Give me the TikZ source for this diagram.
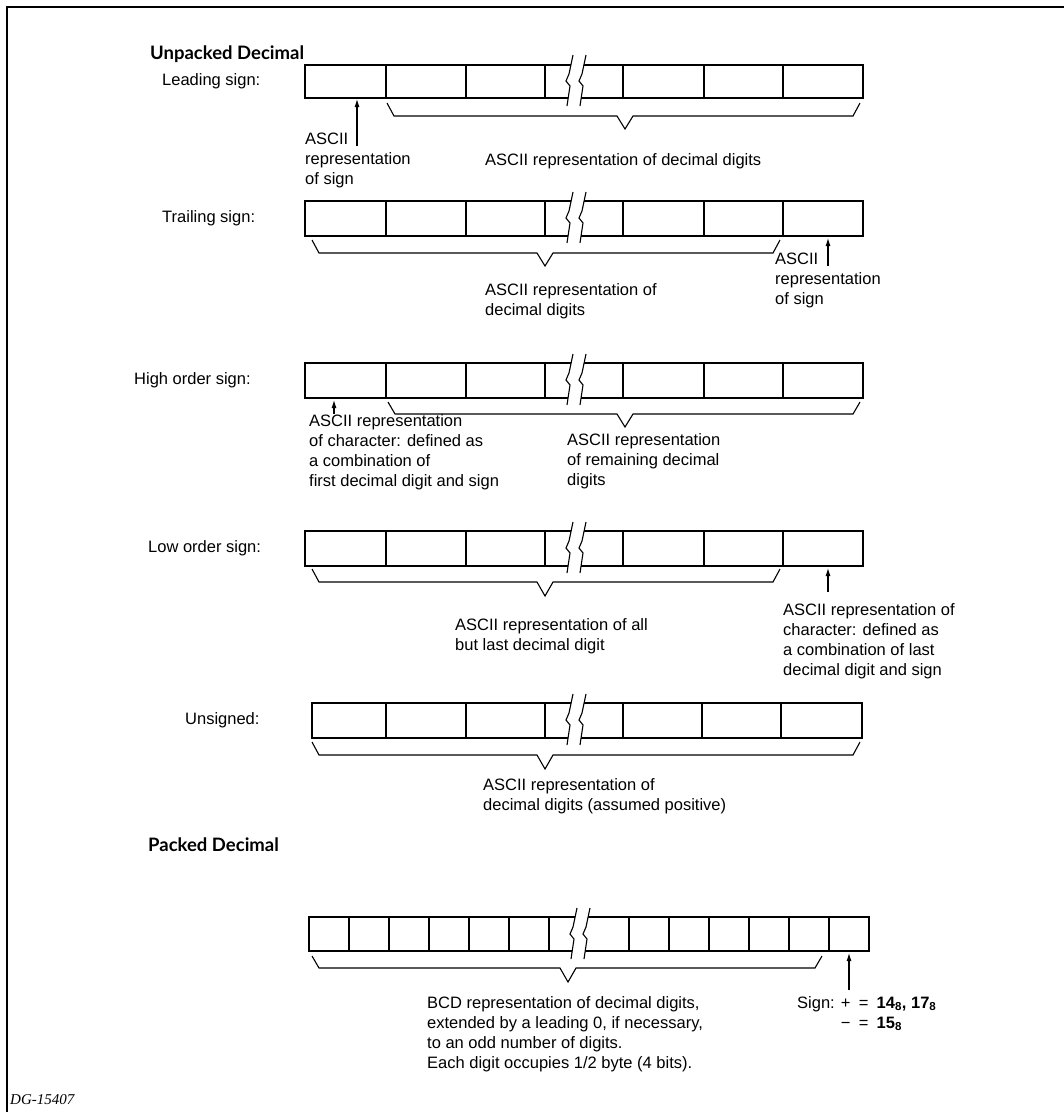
\documentclass[tikz,border=0pt]{standalone}
\usepackage{fontspec}
\setmainfont{Liberation Sans}
\newfontfamily\headfont{Lato}
\newfontfamily\tagfont{Liberation Serif}
\usetikzlibrary{arrows.meta}
\begin{document}
\begin{tikzpicture}[x=1pt,y=-1pt,
  box/.style={line width=1.1pt},
  brace/.style={line width=1.1pt,line join=miter},
  ptr/.style={line width=1.1pt,-{Latex[length=8pt,width=5pt]}},
  txt/.style={inner sep=0pt,align=left,anchor=north west,font=\fontsize{16.5}{20}\selectfont},
  lbl/.style={inner sep=0pt,anchor=west,font=\fontsize{16.5}{20}\selectfont},
  head/.style={inner sep=0pt,anchor=west,font=\headfont\bfseries\fontsize{18.5}{20}\selectfont},
  pics/cut/.style={code={
    \fill[white] (7,-26) -- (3,-7) -- (0,0) -- (4,5) -- (1,25) -- (14,25) -- (17,5) -- (13,0) -- (16,-7) -- (20,-26) -- cycle;
    \draw[box] (7,-26) -- (3,-7) -- (0,0) -- (4,5) -- (1,25);
    \draw[box] (20,-26) -- (16,-7) -- (13,0) -- (17,5) -- (14,25);
  }}]
\useasboundingbox (0,0) rectangle (1064,1112);
\draw[line width=1.2pt] (1064,7) -- (7,7) -- (7,1112);
\node[head] (unpacked) at (150,54) {Unpacked Decimal};
\node[lbl] (leading) at (162,81) {Leading sign:};
\draw[box] (305,65) rectangle (863,98);
\draw[box] (386,65) -- (386,98);
\draw[box] (466,65) -- (466,98);
\draw[box] (545,65) -- (545,98);
\draw[box] (623,65) -- (623,98);
\draw[box] (704,65) -- (704,98);
\draw[box] (783,65) -- (783,98);
\pic at (566,81) {cut};
\coordinate (lsign) at (357,99);
\coordinate (lsignfoot) at (357,146);
\draw[ptr] (lsignfoot) -- (lsign);
\node[txt] (lsigntxt) at (305,133) {ASCII\\representation\\of sign};
\draw[brace] (387,103) -- (394,116) -- (617,116) -- (625,129) -- (633,116) -- (853,116) -- (860,103);
\node[txt] (ldigits) at (485,153) {ASCII representation of decimal digits};
\node[lbl] (trailing) at (162,218) {Trailing sign:};
\draw[box] (305,201) rectangle (863,236);
\draw[box] (386,201) -- (386,236);
\draw[box] (466,201) -- (466,236);
\draw[box] (545,201) -- (545,236);
\draw[box] (623,201) -- (623,236);
\draw[box] (704,201) -- (704,236);
\draw[box] (783,201) -- (783,236);
\pic at (566,218) {cut};
\draw[brace] (312,240) -- (319,253) -- (537,253) -- (545,266) -- (553,253) -- (773,253) -- (780,240);
\coordinate (tsign) at (828,238);
\coordinate (tsignfoot) at (828,266);
\draw[ptr] (tsignfoot) -- (tsign);
\node[txt] (tsigntxt) at (775,253) {ASCII\\representation\\of sign};
\node[txt] (tdigits) at (485,283) {ASCII representation of\\decimal digits};
\node[lbl] (high) at (134,380) {High order sign:};
\draw[box] (305,363) rectangle (863,398);
\draw[box] (386,363) -- (386,398);
\draw[box] (466,363) -- (466,398);
\draw[box] (545,363) -- (545,398);
\draw[box] (623,363) -- (623,398);
\draw[box] (704,363) -- (704,398);
\draw[box] (783,363) -- (783,398);
\pic at (566,380) {cut};
\coordinate (hsign) at (334,400);
\coordinate (hsignfoot) at (334,414);
\draw[ptr] (hsignfoot) -- (hsign);
\node[txt] (hsigntxt) at (309,414) {ASCII representation\\of character: defined as\\a combination of\\first decimal digit and sign};
\draw[brace] (388,402) -- (395,414) -- (617,414) -- (625,427) -- (633,414) -- (853,414) -- (860,402);
\node[txt] (hdigits) at (567,433) {ASCII representation\\of remaining decimal\\digits};
\node[lbl] (low) at (148,548) {Low order sign:};
\draw[box] (305,531) rectangle (863,566);
\draw[box] (386,531) -- (386,566);
\draw[box] (466,531) -- (466,566);
\draw[box] (545,531) -- (545,566);
\draw[box] (623,531) -- (623,566);
\draw[box] (704,531) -- (704,566);
\draw[box] (783,531) -- (783,566);
\pic at (566,548) {cut};
\draw[brace] (312,569) -- (319,582) -- (537,582) -- (545,596) -- (553,582) -- (773,582) -- (780,569);
\coordinate (osign) at (828,568);
\coordinate (osignfoot) at (828,592);
\draw[ptr] (osignfoot) -- (osign);
\node[txt] (osigntxt) at (783,603) {ASCII representation of\\character: defined as\\a combination of last\\decimal digit and sign};
\node[txt] (odigits) at (455,618) {ASCII representation of all\\but last decimal digit};
\node[lbl] (unsigned) at (185,720) {Unsigned:};
\draw[box] (312,703) rectangle (862,738);
\draw[box] (386,703) -- (386,738);
\draw[box] (466,703) -- (466,738);
\draw[box] (545,703) -- (545,738);
\draw[box] (623,703) -- (623,738);
\draw[box] (702,703) -- (702,738);
\draw[box] (781,703) -- (781,738);
\pic at (566,720) {cut};
\draw[brace] (312,742) -- (319,755) -- (537,755) -- (545,769) -- (553,755) -- (853,755) -- (860,742);
\node[txt] (udigits) at (483,778) {ASCII representation of\\decimal digits (assumed positive)};
\node[head] (packed) at (148,845) {Packed Decimal};
\draw[box] (309,917) rectangle (869,951);
\draw[box] (349,917) -- (349,951);
\draw[box] (389,917) -- (389,951);
\draw[box] (429,917) -- (429,951);
\draw[box] (469,917) -- (469,951);
\draw[box] (509,917) -- (509,951);
\draw[box] (549,917) -- (549,951);
\draw[box] (629,917) -- (629,951);
\draw[box] (669,917) -- (669,951);
\draw[box] (709,917) -- (709,951);
\draw[box] (749,917) -- (749,951);
\draw[box] (789,917) -- (789,951);
\draw[box] (829,917) -- (829,951);
\pic at (570,934) {cut};
\draw[brace] (312,956) -- (319,968) -- (560,968) -- (568,982) -- (576,968) -- (815,968) -- (822,956);
\coordinate (psign) at (849,953);
\coordinate (psignfoot) at (849,990);
\draw[ptr] (psignfoot) -- (psign);
\node[txt] (psigntxt) at (797,996) {Sign: +\enspace=\enspace{\bfseries 14\textsubscript{8}, 17\textsubscript{8}}\\\hphantom{Sign: }−\enspace=\enspace{\bfseries 15\textsubscript{8}}};
\node[txt] (pdigits) at (427,996) {BCD representation of decimal digits,\\extended by a leading 0, if necessary,\\to an odd number of digits.\\Each digit occupies 1/2 byte (4 bits).};
\node[inner sep=0pt,anchor=west,font=\tagfont\itshape\fontsize{15}{18}\selectfont] (tag) at (10,1100) {DG-15407};
\end{tikzpicture}
\end{document}
